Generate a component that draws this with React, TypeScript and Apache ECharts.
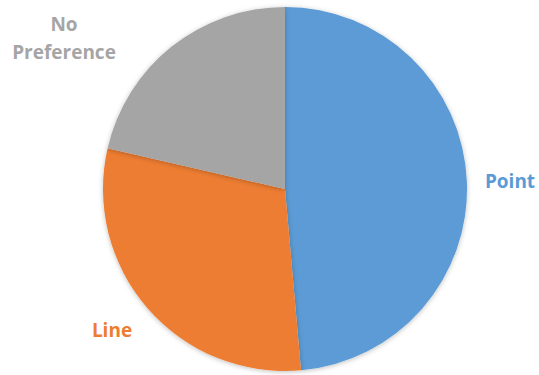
import React, { useEffect, useRef } from "react";
import * as echarts from "echarts";

const categories = ["Point", "Line", "No Preference"];
const values = [48.6, 30.0, 21.4];
const colors = ["#5B9BD5", "#ED7D31", "#A5A5A5"];
const labelTexts = ["Point", "Line", "No\nPreference"];
const labelPos: [number, number][] = [
  [510, 181],
  [112, 330],
  [64, 38],
];

export default function App() {
  const ref = useRef<HTMLDivElement>(null);
  useEffect(() => {
    if (!ref.current) return;
    const chart = echarts.init(ref.current, null, { renderer: "svg" });
    chart.setOption({
      animation: false,
      backgroundColor: "#ffffff",
      series: [
        {
          type: "pie",
          center: [285, 189],
          radius: 182,
          startAngle: 90,
          clockwise: true,
          avoidLabelOverlap: false,
          data: categories.map((c, i) => ({
            name: c,
            value: values[i],
            itemStyle: { color: colors[i] },
            label: {
              color: colors[i],
              formatter: labelTexts[i],
            },
          })),
          itemStyle: {
            borderWidth: 0,
            shadowBlur: 5,
            shadowColor: "rgba(0,0,0,0.25)",
            shadowOffsetY: 1,
          },
          label: {
            show: true,
            position: "outside",
            overflow: "none",
            fontFamily: "Open Sans",
            fontWeight: "bold",
            fontSize: 19,
            lineHeight: 28,
            align: "center",
          },
          labelLine: { show: false },
          labelLayout: (params: any) => {
            const p = labelPos[params.dataIndex];
            return {
              x: p[0],
              y: p[1],
              align: "center",
              verticalAlign: "middle",
            };
          },
        },
      ],
    });
    return () => chart.dispose();
  }, []);
  return (
    <div
      ref={ref}
      style={{ position: "fixed", left: 0, top: 0, width: 539, height: 375 }}
    />
  );
}
